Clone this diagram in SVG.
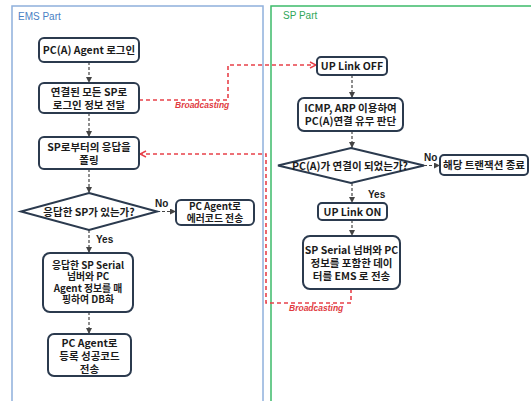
<svg xmlns="http://www.w3.org/2000/svg" width="531" height="401" viewBox="0 0 531 401">
<defs>
<style>
.node{fill:#ffffff;stroke:#2b3a4e;stroke-width:2}
.t{font-family:"Noto Sans CJK KR","Liberation Sans",sans-serif;font-weight:bold;font-size:10.5px;fill:#1b1b1b;text-anchor:middle}
.s{font-size:9.8px}
.lbl{font-family:"Liberation Sans","Noto Sans CJK KR",sans-serif;font-weight:bold;font-size:10px;fill:#1b1b1b}
.bc{font-family:"Liberation Sans",sans-serif;font-weight:bold;font-style:italic;font-size:8.5px;fill:#e03a3e}
.flow{fill:none;stroke:#444;stroke-width:1.2;stroke-dasharray:3,2;marker-end:url(#ah)}
.red{fill:none;stroke:#e8414a;stroke-width:1.6;stroke-dasharray:4,3;marker-end:url(#rh)}
</style>
<marker id="ah" viewBox="0 0 6 6" refX="6" refY="3" markerWidth="6" markerHeight="6" markerUnits="userSpaceOnUse" orient="auto">
<path d="M0,0 L6,3 L0,6 z" fill="#444"/>
</marker>
<marker id="rh" viewBox="0 0 8 8" refX="7" refY="4" markerWidth="8" markerHeight="8" markerUnits="userSpaceOnUse" orient="auto">
<path d="M1,1 L7,4 L1,7" fill="none" stroke="#e8414a" stroke-width="1.4"/>
</marker>
</defs>
<rect width="531" height="401" fill="#ffffff"/>
<g id="ems-part">
<rect x="12" y="6" width="251" height="400" fill="none" stroke="#8fb0dc" stroke-width="1.5"/>
<text x="18" y="20" font-family="Liberation Sans, sans-serif" font-size="10" fill="#4a7fc4">EMS Part</text>
</g>
<g id="sp-part">
<rect x="271" y="6" width="265" height="400" fill="none" stroke="#3dbb6a" stroke-width="1.5"/>
<text x="283" y="19" font-family="Liberation Sans, sans-serif" font-size="10" fill="#2fa65a">SP Part</text>
</g>
<g id="connectors">
<path class="flow" d="M89,62 V83"/>
<path class="flow" d="M89,113 V137"/>
<path class="flow" d="M89,169 V193"/>
<path class="flow" d="M89,230 V253"/>
<path class="flow" d="M157,211.5 H176"/>
<path class="flow" d="M89,312 V334"/>
<path class="red" d="M139,100 H228 V65 H316"/>
<path class="flow" d="M352,75 V98"/>
<path class="flow" d="M352,131 V148"/>
<path class="flow" d="M424,165.5 H440"/>
<path class="flow" d="M352,183 V203"/>
<path class="flow" d="M352,220 V236"/>
<path class="red" d="M351,289 V303 H266 V154 H140"/>
<text class="lbl" x="155" y="207">No</text>
<text class="lbl" x="96" y="243">Yes</text>
<text class="lbl" x="424" y="161">No</text>
<text class="lbl" x="368" y="198">Yes</text>
<text class="bc" x="175" y="108">Broadcasting</text>
<text class="bc" x="289" y="311">Broadcasting</text>
</g>
<g id="n1">
<rect class="node" x="39" y="38" width="100" height="24" rx="5"/>
<text class="t" x="89" y="54">PC(A) Agent 로그인</text>
</g>
<g id="n2">
<rect class="node" x="39" y="83" width="100" height="30" rx="5"/>
<text class="t" x="89" y="95.5">연결된 모든 SP로</text>
<text class="t" x="89" y="108.5">로그인 정보 전달</text>
</g>
<g id="n3">
<rect class="node" x="39" y="137" width="100" height="32" rx="5"/>
<text class="t" x="89" y="151">SP로부터의 응답을</text>
<text class="t" x="89" y="164">폴링</text>
</g>
<g id="n4">
<polygon class="node" points="89,193 157,211.5 89,230 21,211.5"/>
<text class="t" x="89" y="215.5">응답한 SP가 있는가?</text>
</g>
<g id="n5">
<rect class="node" x="176" y="200" width="78" height="25" rx="5"/>
<text class="t s" x="215" y="210">PC Agent로</text>
<text class="t s" x="215" y="221.5">에러코드 전송</text>
</g>
<g id="n6">
<rect class="node" x="43" y="253" width="90" height="59" rx="7"/>
<text class="t s" x="88" y="268.5">응답한 SP Serial</text>
<text class="t s" x="88" y="280">넘버와 PC</text>
<text class="t s" x="88" y="291.5">Agent 정보를 매</text>
<text class="t s" x="88" y="303">핑하여 DB화</text>
</g>
<g id="n7">
<rect class="node" x="48" y="334" width="83" height="42" rx="6"/>
<text class="t" x="89.5" y="346.5">PC Agent로</text>
<text class="t" x="89.5" y="359.5">등록 성공코드</text>
<text class="t" x="89.5" y="372.5">전송</text>
</g>
<g id="sa">
<rect class="node" x="317" y="57" width="70" height="18" rx="4"/>
<text class="t" x="352" y="70">UP Link OFF</text>
</g>
<g id="sb">
<rect class="node" x="298" y="98" width="105" height="33" rx="6"/>
<text class="t" x="350.5" y="112">ICMP, ARP 이용하여</text>
<text class="t" x="350.5" y="125">PC(A)연결 유무 판단</text>
</g>
<g id="sc">
<polygon class="node" points="351,148 424,165.5 351,183 278,165.5"/>
<text class="t" x="350" y="169.5">PC(A)가 연결이 되었는가?</text>
</g>
<g id="sd">
<rect class="node" x="440" y="155" width="88" height="20" rx="4"/>
<text class="t" x="484" y="169">해당 트랜잭션 종료</text>
</g>
<g id="se">
<rect class="node" x="318" y="203" width="69" height="17" rx="4"/>
<text class="t" x="352.5" y="215.5">UP Link ON</text>
</g>
<g id="sf">
<rect class="node" x="303" y="236" width="97" height="53" rx="7"/>
<text class="t" x="351.5" y="254">SP Serial 넘버와 PC</text>
<text class="t" x="351.5" y="267">정보를 포함한 데이</text>
<text class="t" x="351.5" y="280">터를  EMS 로 전송</text>
</g>
</svg>
